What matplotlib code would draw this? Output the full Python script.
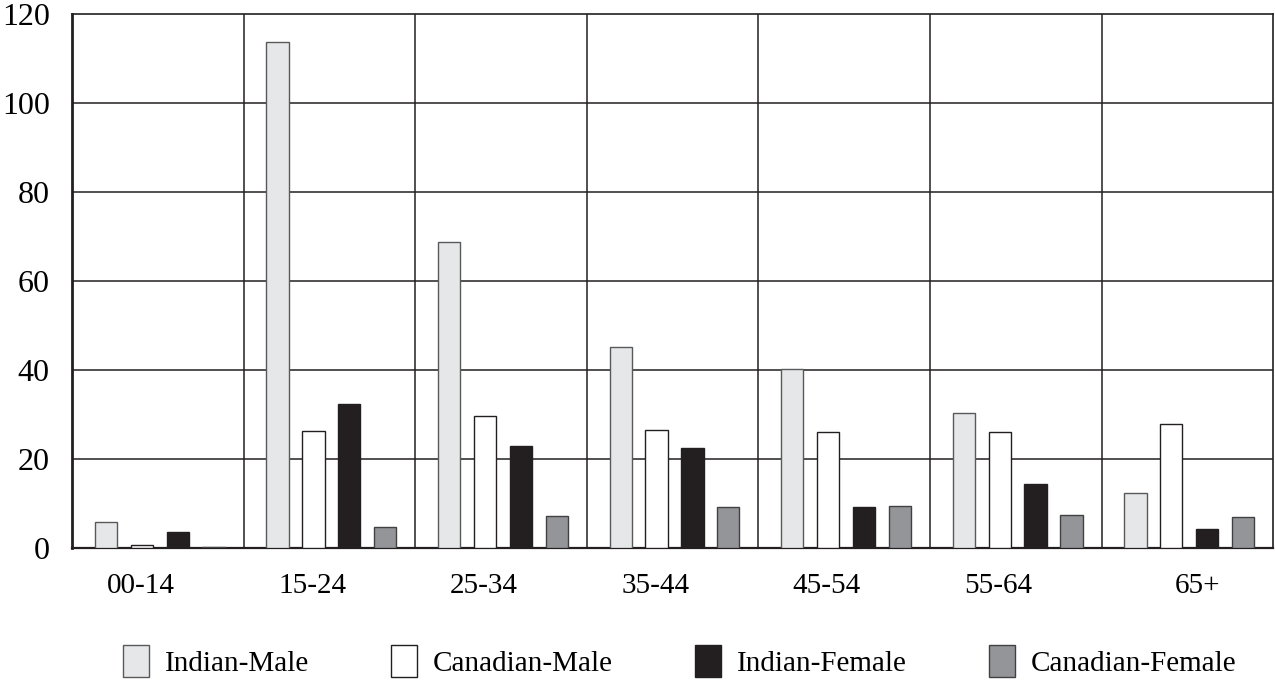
import matplotlib
matplotlib.use("Agg")
import matplotlib.pyplot as plt
import numpy as np

categories = ["00-14", "15-24", "25-34", "35-44", "45-54", "55-64", "65+"]
series_names = ["Indian-Male", "Canadian-Male", "Indian-Female", "Canadian-Female"]
indian_male = [5.8, 113.8, 68.7, 45.1, 40.3, 30.3, 12.3]
canadian_male = [0.7, 26.3, 29.8, 26.6, 26.2, 26.1, 27.8]
indian_female = [3.7, 32.4, 22.9, 22.5, 9.2, 14.5, 4.3]
canadian_female = [0.2, 4.7, 7.3, 9.3, 9.4, 7.5, 6.9]
y_ticks = [0, 20, 40, 60, 80, 100, 120]

series = [indian_male, canadian_male, indian_female, canadian_female]
fills = ["#e6e7e8", "#ffffff", "#231f20", "#939598"]
edges = ["#58595b", "#231f20", "#231f20", "#414042"]

plt.rcParams['font.family'] = ['Liberation Serif', 'DejaVu Serif']

fig = plt.figure(figsize=(12.75, 6.8), dpi=100)
ax = fig.add_axes([0.0565, 0.194, 0.942, 0.785])

base = np.arange(len(categories))
width = 0.13
first_center = 0.198
step = 0.209
handles = []
for k, (vals, fc, ec) in enumerate(zip(series, fills, edges)):
    b = ax.bar(base + first_center + k * step, vals, width=width, color=fc,
               edgecolor=ec, linewidth=1.0, label=series_names[k], zorder=3)
    handles.append(b)

ax.set_xlim(0, len(categories))
ax.set_ylim(0, 120)
ax.set_yticks(y_ticks)
ax.set_yticklabels([str(v) for v in y_ticks], fontsize=23)
ax.tick_params(axis='y', length=0, pad=16)

# x labels
label_offsets = [0.40] * (len(categories) - 1) + [0.56]
ax.set_xticks(base + np.array(label_offsets))
ax.set_xticklabels(categories, fontsize=21)
ax.tick_params(axis='x', length=0, pad=18)

# grid
for y in y_ticks[1:-1]:
    ax.axhline(y, color="#231f20", linewidth=1.1, zorder=1)
for x in range(1, len(categories)):
    ax.axvline(x, color="#231f20", linewidth=1.1, zorder=1)

for side, s in ax.spines.items():
    s.set_color("#231f20")
    s.set_linewidth(1.2)
ax.spines['left'].set_linewidth(2.0)
ax.spines['bottom'].set_linewidth(1.6)

fig.legend(handles=handles, labels=series_names, loc='center',
           bbox_to_anchor=(0.533, 0.028), ncol=4, frameon=False, fontsize=21,
           handlelength=0.9, handleheight=1.35, handletextpad=0.55,
           columnspacing=2.8)

fig.savefig("out.png", dpi=100)
